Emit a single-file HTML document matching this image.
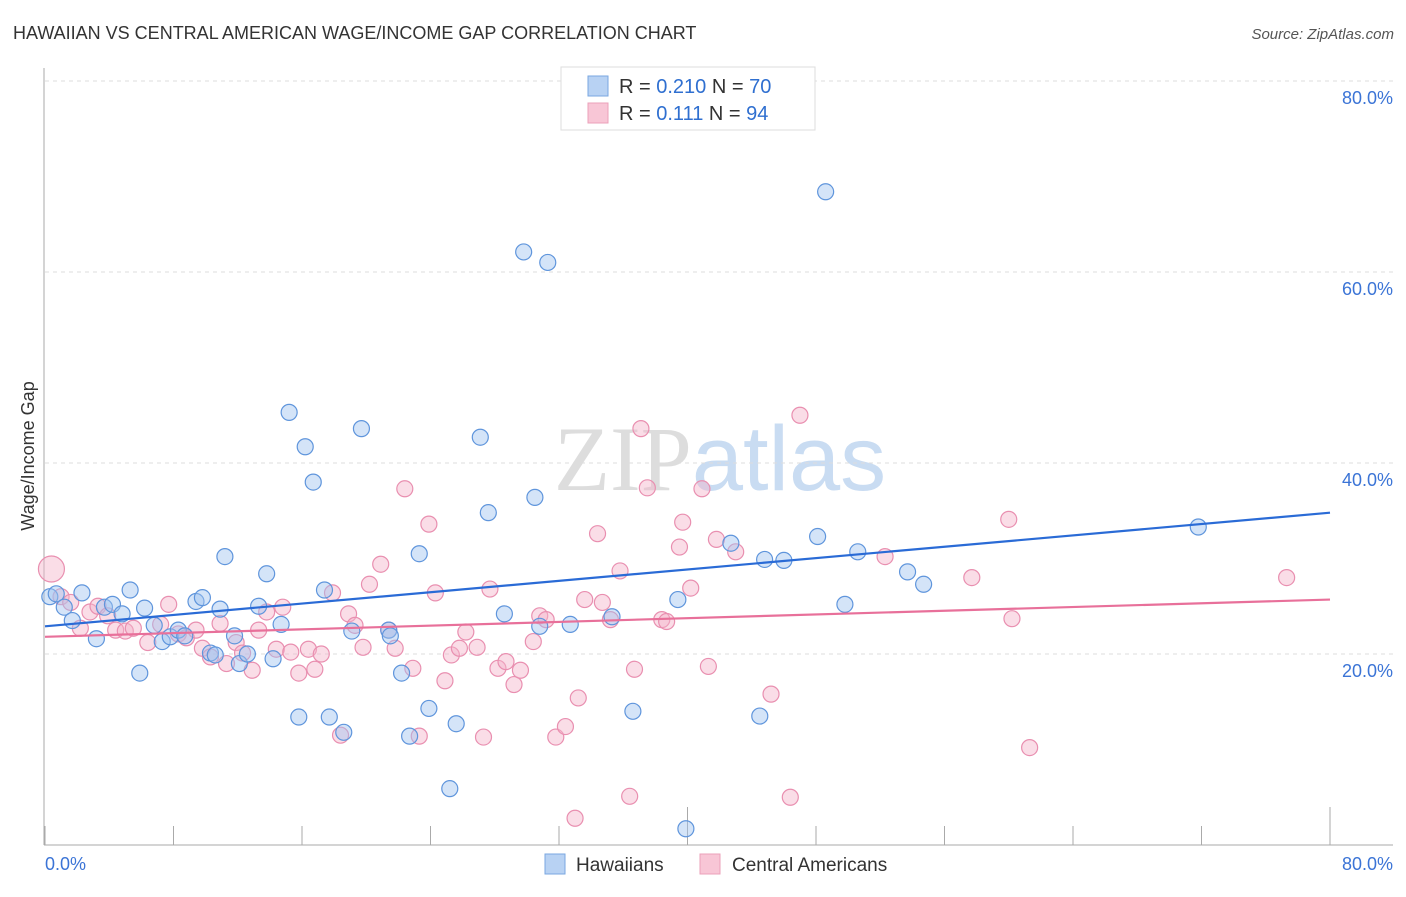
<!DOCTYPE html>
<html><head><meta charset="utf-8"><style>
body{margin:0;background:#fff;font-family:"Liberation Sans",sans-serif}
svg text{font-family:"Liberation Sans",sans-serif}
</style></head><body>
<svg id="chart" width="1406" height="892" xmlns="http://www.w3.org/2000/svg">
<text x="13" y="39" font-size="18" fill="#333">HAWAIIAN VS CENTRAL AMERICAN WAGE/INCOME GAP CORRELATION CHART</text>
<text x="1394" y="39" font-size="15" fill="#555" text-anchor="end" font-style="italic">Source: ZipAtlas.com</text>
<text x="720" y="490" font-size="92" text-anchor="middle"><tspan fill="#ddd" font-family="Liberation Serif">ZIP</tspan><tspan fill="#c9dcf2">atlas</tspan></text>
<g id="grid"></g>
<g id="axes"></g>
<g id="pts"></g>
<g id="trends"></g>
<text transform="translate(34,456) rotate(-90)" font-size="18" fill="#333" text-anchor="middle">Wage/Income Gap</text>
<g>
<rect x="561" y="67" width="254" height="63" fill="#fff" stroke="#ddd"/>
<rect x="588" y="76" width="20" height="20" fill="#b8d2f3" stroke="#7aa7e0"/>
<rect x="588" y="103" width="20" height="20" fill="#f8c6d6" stroke="#eba0ba"/>
<text x="619" y="93" font-size="20" fill="#333">R = <tspan fill="#2f6fd0">0.210</tspan>   N = <tspan fill="#2f6fd0">70</tspan></text>
<text x="619" y="120" font-size="20" fill="#333">R =  <tspan fill="#2f6fd0">0.111</tspan>   N = <tspan fill="#2f6fd0">94</tspan></text>
</g>
<g>
<rect x="545" y="854" width="20" height="20" fill="#b8d2f3" stroke="#7aa7e0"/>
<text x="576" y="871" font-size="19" fill="#333">Hawaiians</text>
<rect x="700" y="854" width="20" height="20" fill="#f8c6d6" stroke="#eba0ba"/>
<text x="732" y="871" font-size="19" fill="#333">Central Americans</text>
</g>
</svg>
<script>
const hawX=[0.3,0.7,1.2,1.7,2.3,3.2,3.7,4.2,4.8,5.3,5.9,6.2,6.8,7.3,7.8,8.3,8.7,9.4,9.8,10.3,10.6,10.9,11.2,11.8,12.1,12.6,13.3,13.8,14.2,14.7,15.2,15.8,16.2,16.7,17.4,17.7,18.6,19.1,19.7,21.4,21.5,22.2,22.7,23.3,23.9,25.2,25.6,27.1,27.6,28.6,29.8,30.5,30.8,31.3,32.7,35.3,36.6,39.4,39.9,42.7,44.5,44.8,46.0,48.1,48.6,49.8,50.6,53.7,54.7,71.8];
const hawY=[26.0,26.3,24.9,23.5,26.4,21.6,24.9,25.2,24.2,26.7,18.0,24.8,23.0,21.3,21.8,22.5,21.9,25.5,25.9,20.1,19.9,24.7,30.2,21.9,19.0,20.0,25.0,28.4,19.5,23.1,45.3,13.4,41.7,38.0,26.7,13.4,11.8,22.4,43.6,22.5,21.9,18.0,11.4,30.5,14.3,5.9,12.7,42.7,34.8,24.2,62.1,36.4,22.9,61.0,23.1,23.9,14.0,25.7,1.7,31.6,13.5,29.9,29.8,32.3,68.4,25.2,30.7,28.6,27.3,33.3];
const camX=[0.4,1.0,1.6,2.2,2.8,3.3,3.9,4.4,5.0,5.5,6.4,7.2,7.7,8.3,8.8,9.4,9.8,10.3,10.9,11.3,11.9,12.3,12.9,13.3,13.8,14.4,14.8,15.3,15.8,16.4,16.8,17.2,17.9,18.4,18.9,19.3,19.8,20.2,20.9,21.4,21.8,22.4,22.9,23.3,23.9,24.3,24.9,25.3,25.8,26.2,26.9,27.3,27.7,28.2,28.7,29.2,29.6,30.4,30.8,31.2,31.8,32.4,33.0,33.2,33.6,34.4,34.7,35.2,35.8,36.4,36.7,37.1,37.5,38.4,38.7,39.5,39.7,40.2,40.9,41.3,41.8,43.0,45.2,46.4,47.0,52.3,57.7,60.0,60.2,61.3,77.3];
const camY=[28.9,26.0,25.4,22.7,24.4,25.0,24.0,22.5,22.4,22.7,21.2,23.1,25.2,22.1,21.7,22.5,20.6,19.7,23.2,19.0,21.2,20.1,18.3,22.5,24.4,20.5,24.9,20.2,18.0,20.5,18.4,20.0,26.4,11.5,24.2,23.0,20.7,27.3,29.4,22.5,20.6,37.3,18.5,11.4,33.6,26.4,17.2,19.9,20.6,22.3,20.7,11.3,26.8,18.5,19.2,16.8,18.3,21.3,24.0,23.6,11.3,12.4,2.8,15.4,25.7,32.6,25.4,23.6,28.7,5.1,18.4,43.6,37.4,23.6,23.4,31.2,33.8,26.9,37.3,18.7,32.0,30.7,15.8,5.0,45.0,30.2,28.0,34.1,23.7,10.2,28.0];
const trendStart=[22.9,21.8];
const trendEnd=[34.8,25.7];
const yTicks=[20,40,60,80];
const xTickVals=[0,8,16,24,32,40,48,56,64,72,80];
const NS='http://www.w3.org/2000/svg';
const X0=45,X1=1330,Y0=845,Y80=81;
const sx=v=>X0+(v/80)*(X1-X0);
const sy=v=>Y0-(v/80)*(Y0-Y80);
function mk(tag,attrs,parent){const e=document.createElementNS(NS,tag);for(const k in attrs)e.setAttribute(k,attrs[k]);document.getElementById(parent).appendChild(e);return e;}
yTicks.forEach(t=>{
 const l=mk('line',{x1:45,x2:1393,y1:sy(t),y2:sy(t),stroke:'#ddd','stroke-dasharray':'4,4'},'grid');
 
 
 const tx=mk('text',{x:1393,y:sy(t)+23,'font-size':18,fill:'#3b74d6','text-anchor':'end'},'grid');
 tx.textContent=t.toFixed(1)+'%';
 
 
});
const ax=mk('line',{x1:44,x2:44,y1:68,y2:845,stroke:'#aaa'},'axes');


const bx=mk('line',{x1:44,x2:1393,y1:845,y2:845,stroke:'#aaa'},'axes');


xTickVals.forEach((t,i)=>{
 const tk=mk('line',{x1:sx(t),x2:sx(t),y1:(i%5==0&&i>0)?807:826,y2:845,stroke:'#aaa'},'axes');
 
 
});
[[0,'start',45],[80,'end',1393]].forEach(([v,a,x])=>{
 const t=mk('text',{x:x,y:870,'font-size':18,fill:'#3b74d6','text-anchor':a},'axes');
 t.textContent=v.toFixed(1)+'%';
 
 
});
function series(xs,ys,fill,stroke,name){
 xs.forEach((x,i)=>{
  const c=mk('circle',{cx:sx(x),cy:sy(ys[i]),r:(i==0&&name=='central-american')?13:8,fill:fill,'fill-opacity':0.45,stroke:stroke,'stroke-width':1.2},'pts');
  
  
 });
}
series(camX,camY,'#f5b3c9','#e98fb0','central-american');
series(hawX,hawY,'#9fc3ef','#5f95dc','hawaiian');
const cols=['#2a6bd6','#e8709a'],nm=['hawaiian-trend-line','central-american-trend-line'];
[0,1].forEach(i=>{
 const l=mk('line',{x1:sx(0),y1:sy(trendStart[i]),x2:sx(80),y2:sy(trendEnd[i]),stroke:cols[i],'stroke-width':2.2},'trends');
 
 
});
</script>
</body></html>
